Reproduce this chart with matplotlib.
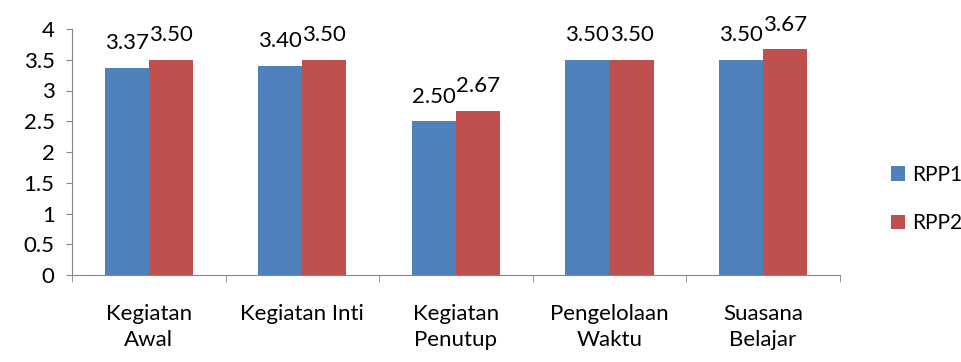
import numpy as np
import matplotlib.pyplot as plt

kategori = ["Kegiatan\nAwal", "Kegiatan Inti", "Kegiatan\nPenutup",
            "Pengelolaan\nWaktu", "Suasana\nBelajar"]
rpp1 = [3.37, 3.40, 2.50, 3.50, 3.50]
rpp2 = [3.50, 3.50, 2.67, 3.50, 3.67]

plt.rcParams['font.family'] = ['Lato', 'DejaVu Sans']
fs = 16

fig = plt.figure(figsize=(9.61, 3.62), dpi=100)
ax = fig.add_axes([0.0749, 0.240, 0.799, 0.680])

x = np.arange(len(kategori))
w = 0.287
b1 = ax.bar(x - w / 2, rpp1, w, color="#4F81BD", label="RPP1")
b2 = ax.bar(x + w / 2, rpp2, w, color="#C0504D", label="RPP2")

for bars, vals in [(b1, rpp1), (b2, rpp2)]:
    for bar, v in zip(bars, vals):
        ax.annotate(f"{v:.2f}", (bar.get_x() + bar.get_width() / 2, v),
                    xytext=(0, 13.5), textcoords="offset points",
                    ha="center", va="baseline", fontsize=fs)

ax.set_xlim(-0.5, len(kategori) - 0.5)
ax.set_ylim(0, 4)
ax.set_yticks(np.arange(0, 4.01, 0.5))
ax.set_yticklabels(["0", "0.5", "1", "1.5", "2", "2.5", "3", "3.5", "4"])
ax.set_xticks(x)
ax.set_xticklabels(kategori, linespacing=1.35)
ax.set_xticks(np.arange(-0.5, len(kategori)), minor=True)

grey = "#868686"
for s in ["top", "right"]:
    ax.spines[s].set_visible(False)
for s in ["left", "bottom"]:
    ax.spines[s].set_color(grey)
ax.tick_params(axis="y", direction="out", length=4.5, color=grey,
               labelsize=fs, pad=8)
ax.tick_params(axis="x", which="major", length=0, labelsize=fs, pad=21)
ax.tick_params(axis="x", which="minor", direction="out", length=5, color=grey)

ax.legend(loc="center left", bbox_to_anchor=(0.916, 0.45),
          bbox_transform=fig.transFigure, frameon=False, fontsize=15,
          handlelength=0.7, handleheight=0.7, handletextpad=0.35,
          labelspacing=1.35, borderpad=0)

fig.savefig("out.png", dpi=100)
